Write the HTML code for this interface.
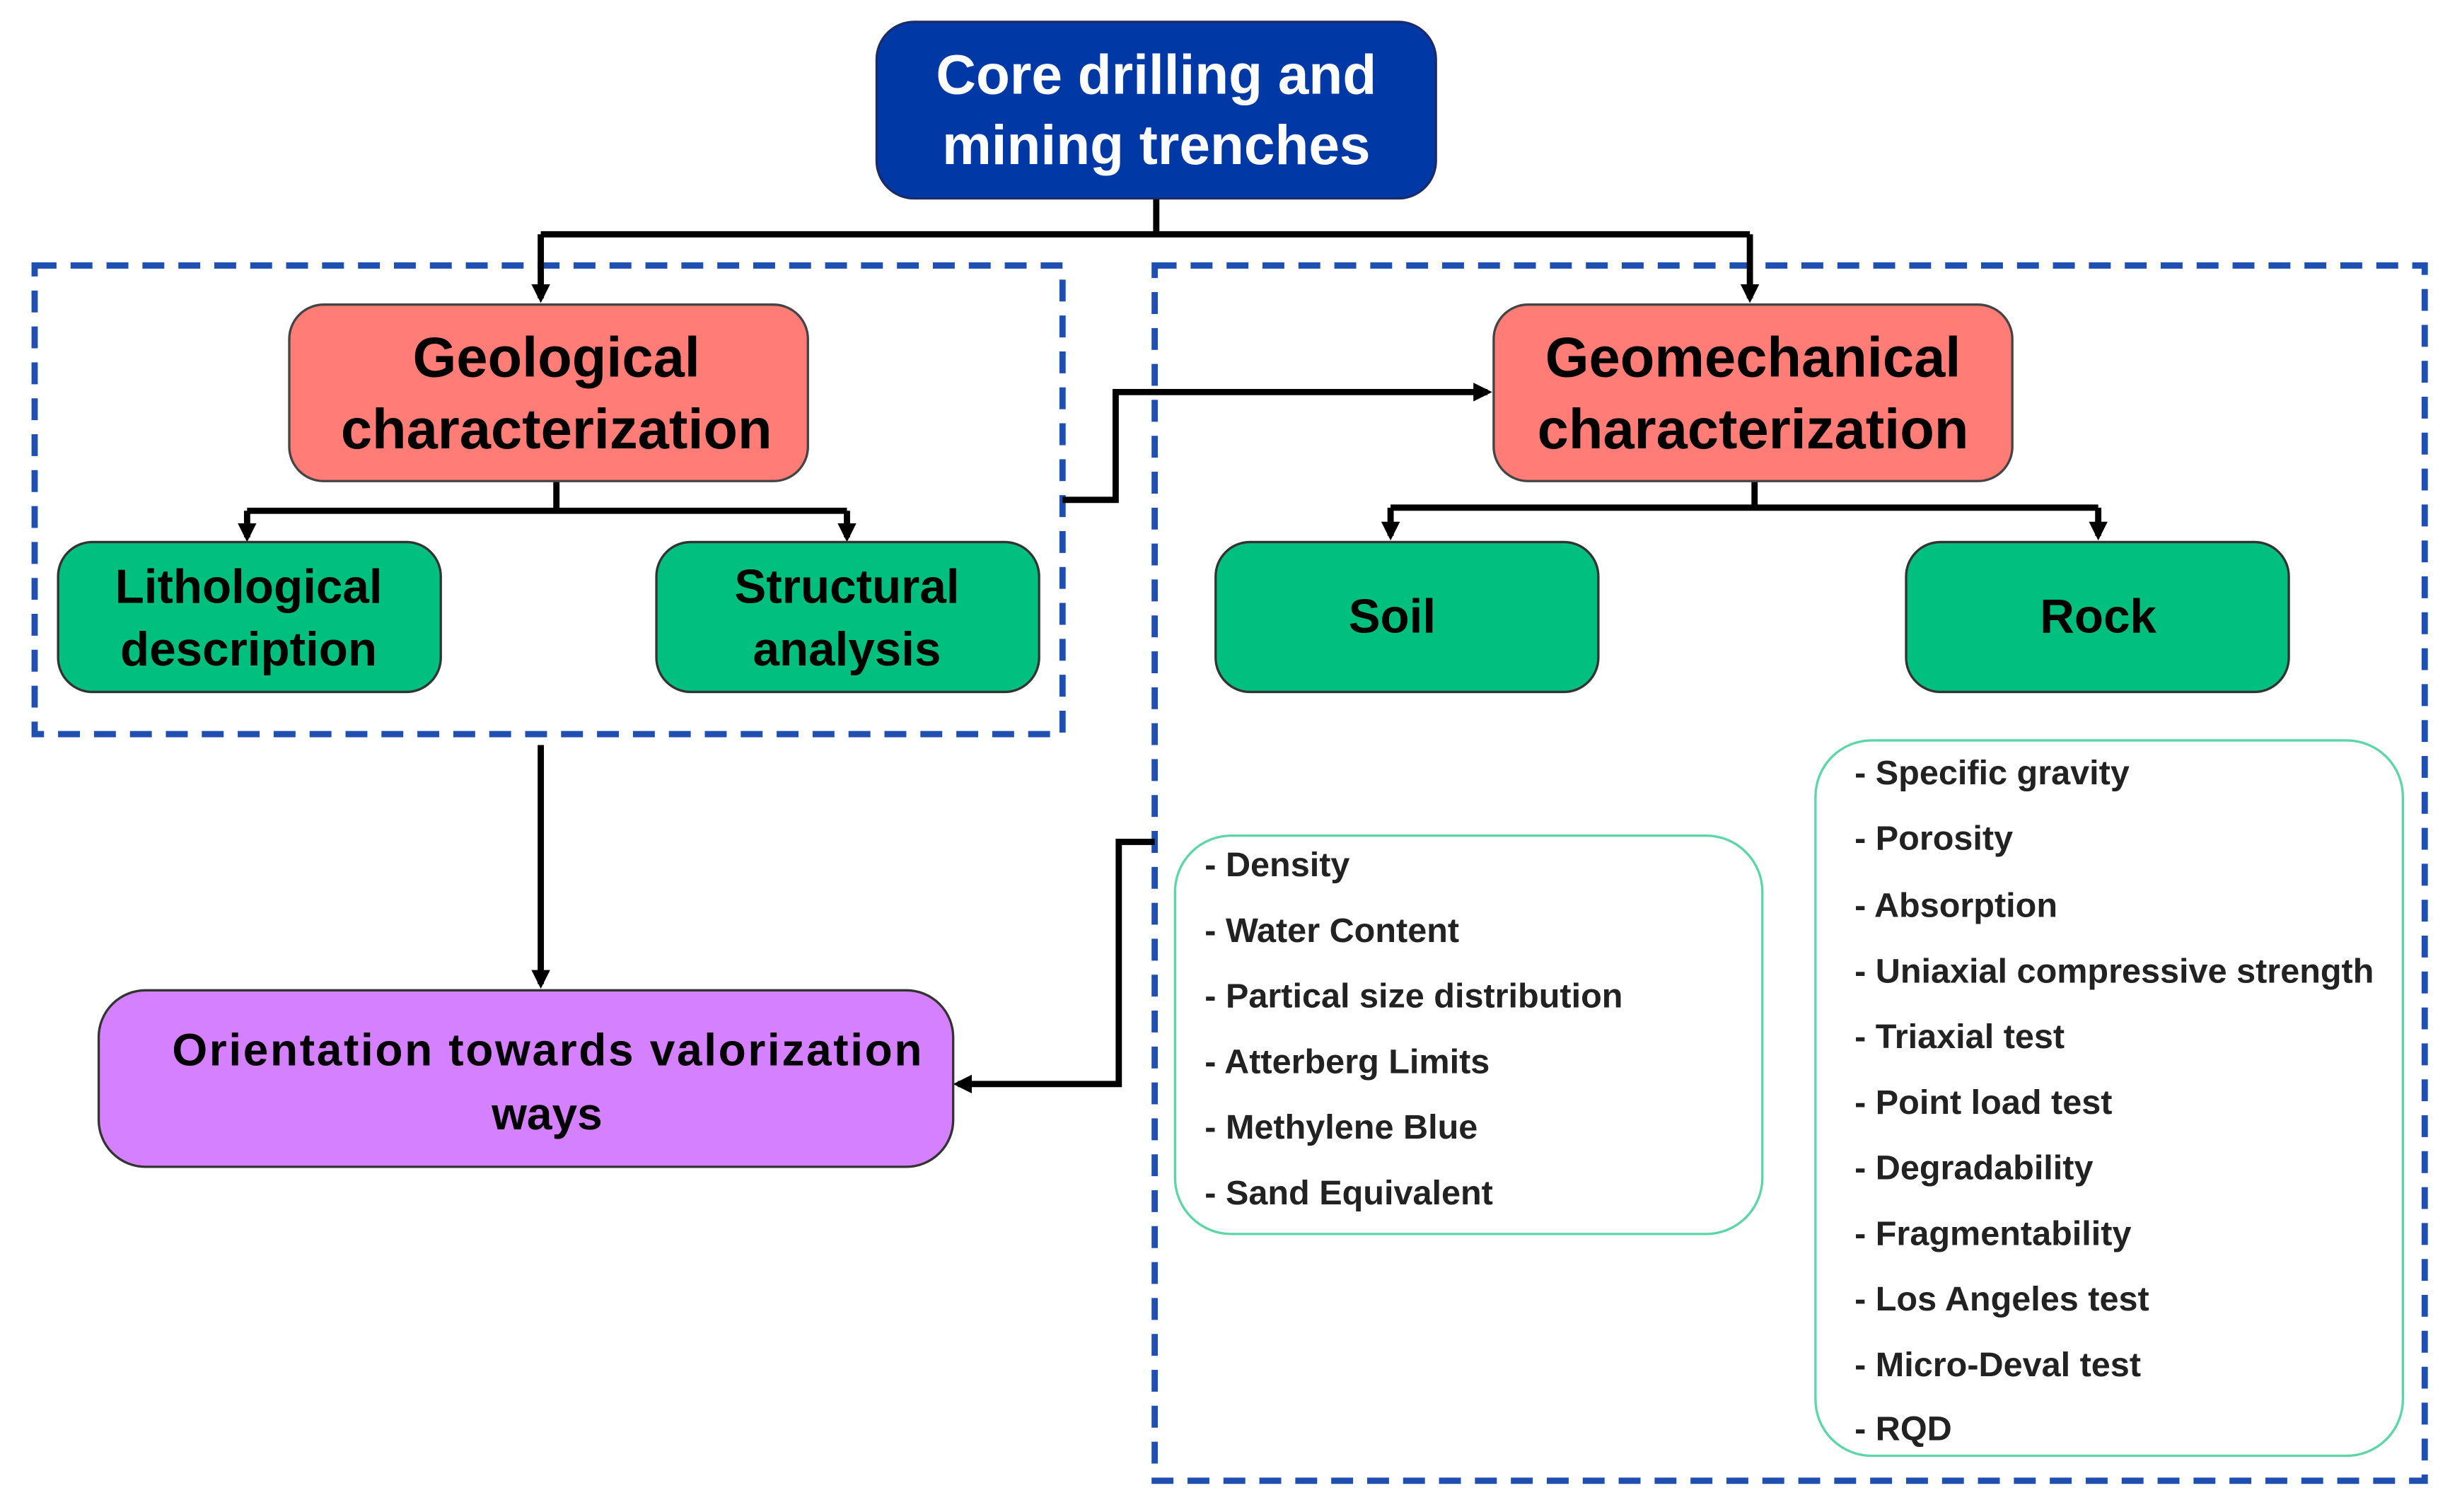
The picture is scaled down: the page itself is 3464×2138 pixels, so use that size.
<!DOCTYPE html>
<html><head><meta charset="utf-8"><style>
html,body{margin:0;padding:0;background:#fff;}
svg{display:block;}
text{font-family:"Liberation Sans",sans-serif;font-weight:bold;}
</style></head><body>
<svg width="3464" height="2138" viewBox="0 0 1568 968" xmlns="http://www.w3.org/2000/svg">
<defs>
<marker id="a" markerWidth="12" markerHeight="12" refX="9" refY="6" orient="auto" markerUnits="userSpaceOnUse">
<path d="M0,0 L12,6 L0,12 z" fill="#000"/></marker>
</defs>
<rect x="0" y="0" width="1568" height="968" fill="#fff"/>
<rect x="22" y="170" width="658" height="300" fill="none" stroke="#1f4fb0" stroke-width="4" stroke-dasharray="14 9"/>
<rect x="739" y="170" width="813" height="778" fill="none" stroke="#1f4fb0" stroke-width="4" stroke-dasharray="14 9"/>
<g stroke="#000" stroke-width="4" fill="none">
<path d="M740,127 V150 M346,150 H1120"/>
<path d="M346,150 V191" marker-end="url(#a)"/>
<path d="M1120,150 V191" marker-end="url(#a)"/>
<path d="M356,308 V327 M158,327 H542"/>
<path d="M158,327 V344" marker-end="url(#a)"/>
<path d="M542,327 V344" marker-end="url(#a)"/>
<path d="M1123,308 V325 M890,325 H1343"/>
<path d="M890,325 V343" marker-end="url(#a)"/>
<path d="M1343,325 V343" marker-end="url(#a)"/>
<path d="M680,320 H714 V251 H952" marker-end="url(#a)"/>
<path d="M346,477 V630" marker-end="url(#a)"/>
<path d="M739,539 H716 V694 H613" marker-end="url(#a)"/>
</g>
<rect x="561" y="14" width="358" height="113" rx="24" fill="#0039a6" stroke="#1a2a6a" stroke-width="1.5"/>
<text x="740" y="60" font-size="35.5" fill="#fff" text-anchor="middle">Core drilling and</text>
<text x="740" y="105" font-size="35.5" fill="#fff" text-anchor="middle">mining trenches</text>
<rect x="185" y="195" width="332" height="113" rx="22" fill="#ff7c77" stroke="#444" stroke-width="1.5"/>
<text x="356" y="241" font-size="36" text-anchor="middle">Geological</text>
<text x="356" y="287" font-size="36" text-anchor="middle">characterization</text>
<rect x="956" y="195" width="332" height="113" rx="22" fill="#ff7c77" stroke="#444" stroke-width="1.5"/>
<text x="1122" y="241" font-size="36" text-anchor="middle">Geomechanical</text>
<text x="1122" y="287" font-size="36" text-anchor="middle">characterization</text>
<g fill="#00bf7f" stroke="#333" stroke-width="1.5">
<rect x="37" y="347" width="245" height="96" rx="22"/>
<rect x="420" y="347" width="245" height="96" rx="22"/>
<rect x="778" y="347" width="245" height="96" rx="22"/>
<rect x="1220" y="347" width="245" height="96" rx="22"/>
</g>
<text x="159" y="386" font-size="30.5" text-anchor="middle">Lithological</text>
<text x="159" y="426" font-size="30.5" text-anchor="middle">description</text>
<text x="542" y="386" font-size="30.5" text-anchor="middle">Structural</text>
<text x="542" y="426" font-size="30.5" text-anchor="middle">analysis</text>
<text x="891" y="405" font-size="30.5" text-anchor="middle">Soil</text>
<text x="1343" y="405" font-size="30.5" text-anchor="middle">Rock</text>
<rect x="63" y="634" width="547" height="113" rx="30" fill="#d580ff" stroke="#333" stroke-width="1.5"/>
<text x="110" y="682" font-size="29" textLength="480" lengthAdjust="spacing">Orientation towards valorization</text>
<text x="350" y="723" font-size="29" text-anchor="middle">ways</text>
<rect x="752" y="535" width="376" height="255" rx="36" fill="#fff" stroke="#5cd6a6" stroke-width="1.5"/>
<rect x="1162" y="474" width="376" height="458" rx="36" fill="#fff" stroke="#5cd6a6" stroke-width="1.5"/>
<g font-size="22" fill="#222">
<text x="771" y="561">- Density</text>
<text x="771" y="603">- Water Content</text>
<text x="771" y="645">- Partical size distribution</text>
<text x="771" y="687">- Atterberg Limits</text>
<text x="771" y="729">- Methylene Blue</text>
<text x="771" y="771">- Sand Equivalent</text>
<text x="1187" y="502">- Specific gravity</text>
<text x="1187" y="544">- Porosity</text>
<text x="1187" y="587">- Absorption</text>
<text x="1187" y="629">- Uniaxial compressive strength</text>
<text x="1187" y="671">- Triaxial test</text>
<text x="1187" y="713">- Point load test</text>
<text x="1187" y="755">- Degradability</text>
<text x="1187" y="797">- Fragmentability</text>
<text x="1187" y="839">- Los Angeles test</text>
<text x="1187" y="881">- Micro-Deval test</text>
<text x="1187" y="922">- RQD</text>
</g>
</svg>
</body></html>
